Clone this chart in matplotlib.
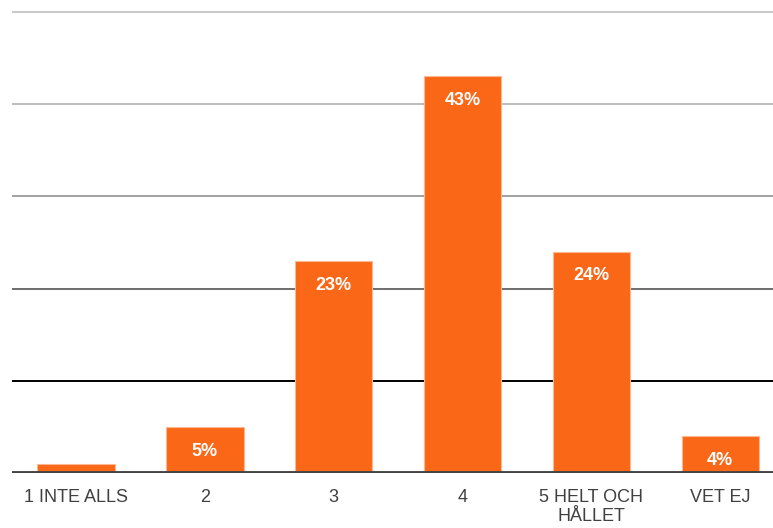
import matplotlib
matplotlib.use("Agg")
import matplotlib.pyplot as plt

categories = ["1 INTE ALLS", "2", "3", "4", "5 HELT OCH\nHÅLLET", "VET EJ"]
values = [1, 5, 23, 43, 24, 4]
grid_values = [10, 20, 30, 40, 50]
grid_colors = ["#000000", "#6e6e6e", "#a0a0a0", "#bcbcbc", "#c8c8c8"]

plt.rcParams["font.family"] = ["Liberation Sans", "DejaVu Sans"]

fig = plt.figure(figsize=(7.73, 5.28), dpi=100)
ax = fig.add_axes([12 / 773, 1 - 473 / 528, 1 - 12 / 773, (473 - 10) / 528])

x = list(range(len(categories)))
for g, c in zip(grid_values, grid_colors):
    ax.axhline(g, color=c, lw=1.4, zorder=1)
ax.axhline(0, color="#444444", lw=2.8, zorder=3)

bars = ax.bar(x, values, width=0.6, color="#f96717", edgecolor="#fdb892",
              linewidth=0.8, zorder=2)

for xi, v in zip(x, values):
    if v < 3:
        continue
    ax.annotate(f"{v}%", (xi, v), xytext=(0, -17.5), textcoords="offset points",
                ha="center", va="center", color="white", fontsize=13,
                fontweight="bold", zorder=4)

ax.set_xlim(-0.497, 5.41)
ax.set_ylim(0, 50.2)
ax.set_xticks(x)
ax.set_xticklabels(categories, fontsize=13, color="#404040", linespacing=1.15)
ax.set_yticks([])
ax.tick_params(axis="x", length=0, pad=11.5)
for s in ax.spines.values():
    s.set_visible(False)

fig.savefig("out.png", dpi=100)
